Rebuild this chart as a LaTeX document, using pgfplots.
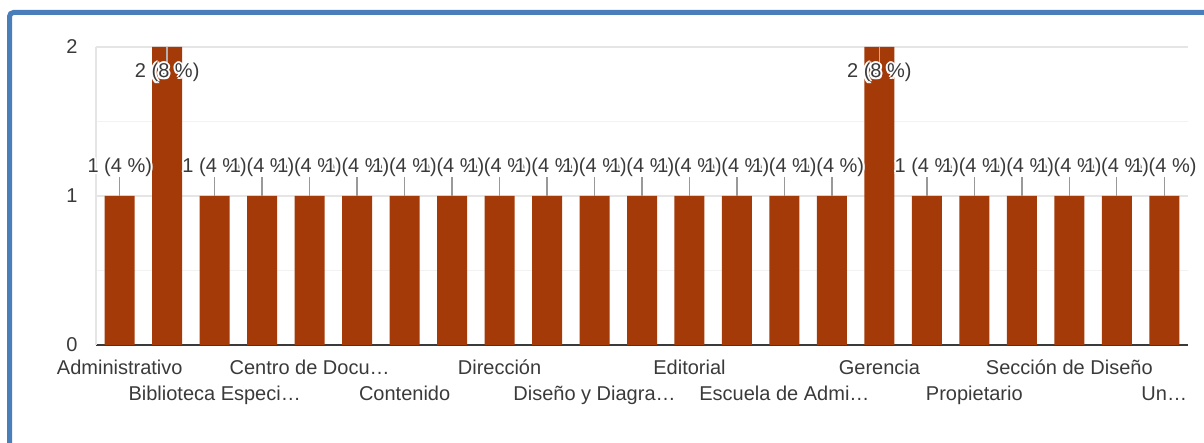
\documentclass[border=0pt]{standalone}
\usepackage{pgfplots}
\pgfplotsset{compat=1.18}
\usepackage{fontspec}
\setmainfont{Liberation Sans}
\definecolor{barc}{HTML}{A53A09}
\definecolor{txt}{HTML}{3A3A3A}
\definecolor{frame}{HTML}{4A7EBB}
\newlength\hl \setlength\hl{1pt}
\newcommand\halo[1]{\leavevmode
 \rlap{\textcolor{white}{\hspace*{\hl}#1}}%
 \rlap{\textcolor{white}{\hspace*{-\hl}#1}}%
 \rlap{\textcolor{white}{\raisebox{\hl}{#1}}}%
 \rlap{\textcolor{white}{\raisebox{-\hl}{#1}}}%
 \rlap{\textcolor{white}{\hspace*{0.7\hl}\raisebox{0.7\hl}{#1}}}%
 \rlap{\textcolor{white}{\hspace*{-0.7\hl}\raisebox{0.7\hl}{#1}}}%
 \rlap{\textcolor{white}{\hspace*{0.7\hl}\raisebox{-0.7\hl}{#1}}}%
 \rlap{\textcolor{white}{\hspace*{-0.7\hl}\raisebox{-0.7\hl}{#1}}}%
 #1}
\newcommand\lfont{\fontsize{10}{12}\selectfont}
\begin{document}
\begin{tikzpicture}
\useasboundingbox (0,0) rectangle (602pt,221.5pt);
\draw[frame, line width=2.5pt, rounded corners=2pt] (4.75pt,0) -- (4.75pt,215.25pt) -- (602pt,215.25pt);
\begin{axis}[
  at={(48pt,49pt)}, anchor=south west,
  scale only axis, width=546pt, height=149pt,
  xmin=-0.5, xmax=22.5, ymin=0, ymax=2,
  ytick={0,1,2}, minor ytick={0.5,1.5},
  ymajorgrids, yminorgrids,
  major grid style={draw=black!10, line width=0.6pt},
  minor grid style={draw=black!5, line width=0.6pt},
  axis x line*=bottom, axis y line*=left,
  x axis line style={-, draw=txt, line width=0.8pt},
  y axis line style={-, draw=black!10, line width=0.6pt},
  major tick length=0pt, minor tick length=0pt,
  /pgf/number format/assume math mode=true,
  yticklabel style={anchor=east, inner sep=0pt, xshift=-9pt, font=\lfont, text=txt},
  xtick={0,2,...,22},
  xticklabels={Administrativo,
    {\raisebox{-13pt}[0pt][0pt]{Biblioteca Especi…}},
    Centro de Docu…,
    {\raisebox{-13pt}[0pt][0pt]{Contenido}},
    Dirección,
    {\raisebox{-13pt}[0pt][0pt]{Diseño y Diagra…}},
    Editorial,
    {\raisebox{-13pt}[0pt][0pt]{Escuela de Admi…}},
    Gerencia,
    {\raisebox{-13pt}[0pt][0pt]{Propietario}},
    Sección de Diseño,
    {\raisebox{-13pt}[0pt][0pt]{Un…}}},
  xticklabel style={anchor=base, inner sep=0pt, yshift=-15pt, font=\lfont, text=txt},
]
\addplot[ybar, bar width=15pt, fill=barc, draw=none] coordinates {
 (0,1) (1,2) (2,1) (3,1) (4,1) (5,1) (6,1) (7,1) (8,1) (9,1) (10,1) (11,1)
 (12,1) (13,1) (14,1) (15,1) (16,2) (17,1) (18,1) (19,1) (20,1) (21,1) (22,1)};
% leader lines and labels for value 1
\addplot[draw=none, mark=none,
  error bars/.cd, y dir=plus, y explicit, error mark=none,
  error bar style={draw=black!40, line width=0.7pt, solid}]
  coordinates {
 (0,1) +- (0,0.1275) (2,1) +- (0,0.1275) (3,1) +- (0,0.1275) (4,1) +- (0,0.1275)
 (5,1) +- (0,0.1275) (6,1) +- (0,0.1275) (7,1) +- (0,0.1275) (8,1) +- (0,0.1275)
 (9,1) +- (0,0.1275) (10,1) +- (0,0.1275) (11,1) +- (0,0.1275) (12,1) +- (0,0.1275)
 (13,1) +- (0,0.1275) (14,1) +- (0,0.1275) (15,1) +- (0,0.1275) (17,1) +- (0,0.1275)
 (18,1) +- (0,0.1275) (19,1) +- (0,0.1275) (20,1) +- (0,0.1275) (21,1) +- (0,0.1275)
 (22,1) +- (0,0.1275)};
\addplot[draw=none, mark=none,
  nodes near coords={\halo{1 (4 \%)}},
  every node near coord/.append style={anchor=base, yshift=11.5pt, inner sep=0pt, font=\lfont, text=txt}]
  coordinates {
 (0,1) (2,1) (3,1) (4,1) (5,1) (6,1) (7,1) (8,1) (9,1) (10,1) (11,1)
 (12,1) (13,1) (14,1) (15,1) (17,1) (18,1) (19,1) (20,1) (21,1) (22,1)};
% leader lines and labels for value 2
\addplot[draw=none, mark=none,
  error bars/.cd, y dir=minus, y explicit, error mark=none,
  error bar style={draw=black!30, line width=0.8pt, solid}]
  coordinates {(1,2) +- (0,0.125) (16,2) +- (0,0.125)};
\addplot[draw=none, mark=none,
  nodes near coords={\halo{2 (8 \%)}},
  every node near coord/.append style={anchor=base, yshift=-15.5pt, inner sep=0pt, font=\lfont, text=txt}]
  coordinates {(1,2) (16,2)};
\end{axis}
\end{tikzpicture}
\end{document}
